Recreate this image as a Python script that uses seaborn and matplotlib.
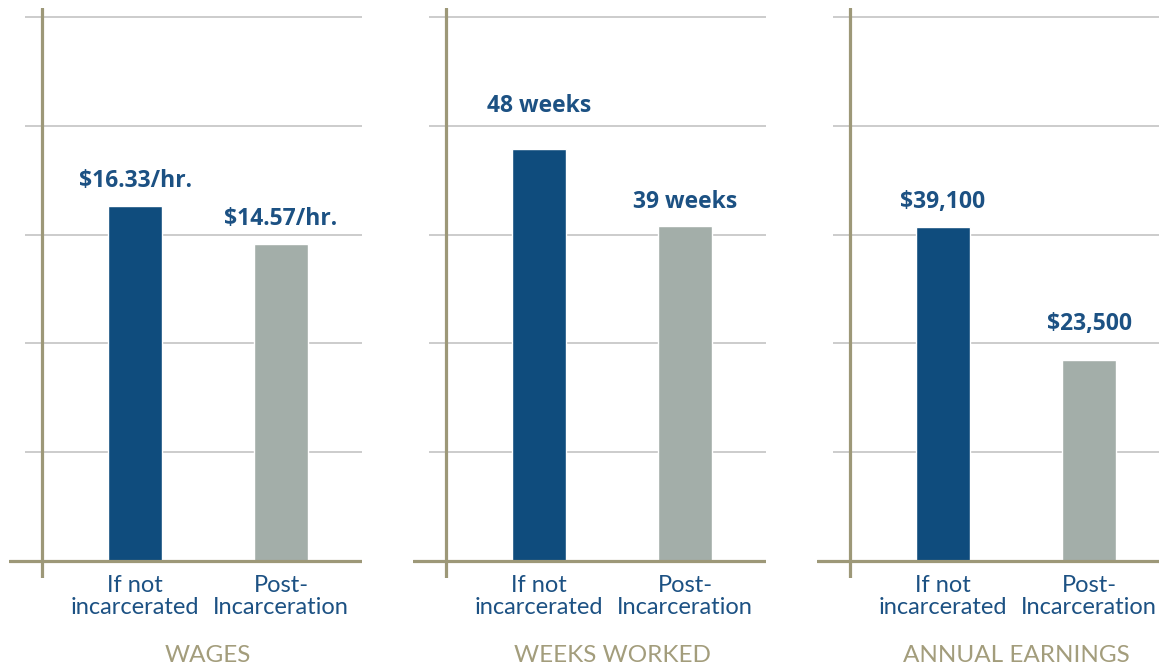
import matplotlib
matplotlib.use('Agg')
import matplotlib.pyplot as plt
import seaborn as sns
import pandas as pd

# ---- data ----
panel_titles = ["WAGES", "WEEKS WORKED", "ANNUAL EARNINGS"]
categories = ["If not\nincarcerated", "Post-\nIncarceration"]
wages = [16.33, 14.57]
weeks = [48, 39]
earnings = [39100, 23500]
value_labels = [["$16.33/hr.", "$14.57/hr."],
                ["48 weeks", "39 weeks"],
                ["$39,100", "$23,500"]]
series = [wages, weeks, earnings]

# ---- layout / style ----
axis_tops = [25, 63.4, 63600]          # value at top gridline of each panel
label_gaps_px = [[13, 13], [31, 12], [13, 24]]
BLUE = "#0f4c7d"
GRAY = "#a3aea9"
GRID = "#c4c4c4"
AXIS = "#9d9878"
TXT_BLUE = "#1c5183"
TITLE = "#a39d7c"

sns.set_theme(style="white")
plt.rcParams['font.family'] = ['Lato', 'DejaVu Sans']

W, H = 1159, 667
fig = plt.figure(figsize=(W / 100, H / 100), dpi=100)
PX_UNIT = 146.0

for i in range(3):
    xv = 42 + 404 * i
    left = xv - 33
    ax = fig.add_axes([left / W, (H - 578) / H, 353 / W, 570 / H])
    df = pd.DataFrame({'cat': categories, 'val': series[i]})
    sns.barplot(data=df, x='cat', y='val', hue='cat', palette=[BLUE, GRAY],
                width=0.37, saturation=1, ax=ax, legend=False, zorder=2)
    blue_c = xv + 93
    xl = -(blue_c - left) / PX_UNIT
    xr = xl + 353 / PX_UNIT
    ax.set_xlim(xl, xr)
    top = axis_tops[i]
    ax.set_ylim(-17 / 544 * top, 553 / 544 * top)
    for k in range(1, 6):
        ax.hlines(top * k / 5, xmin=-110 / PX_UNIT, xmax=xr, color=GRID, lw=1.2, zorder=0)
    ax.axhline(0, color=AXIS, lw=2.3, zorder=3)
    ax.axvline(-93 / PX_UNIT, color=AXIS, lw=2.3, zorder=3)
    for s in ax.spines.values():
        s.set_visible(False)
    ax.set_yticks([])
    ax.set_ylabel('')
    ax.set_xlabel('')
    ax.set_xticks([0, 1])
    ax.set_xticklabels(categories, color=TXT_BLUE, fontsize=17, linespacing=1.05)
    ax.tick_params(axis='x', length=0, pad=-2)
    for j, v in enumerate(series[i]):
        ax.annotate(value_labels[i][j], (j, v), xytext=(0, label_gaps_px[i][j] * 0.72),
                    textcoords='offset points', ha='center', va='bottom',
                    fontsize=16.5, fontweight='bold', color=TXT_BLUE,
                    family=['Open Sans', 'DejaVu Sans'])
    fig.text((blue_c + 73) / W, 1 - 656 / H, panel_titles[i], ha='center', va='center',
             fontsize=17.5, color=TITLE)

fig.savefig('out.png', dpi=100, facecolor='white')
